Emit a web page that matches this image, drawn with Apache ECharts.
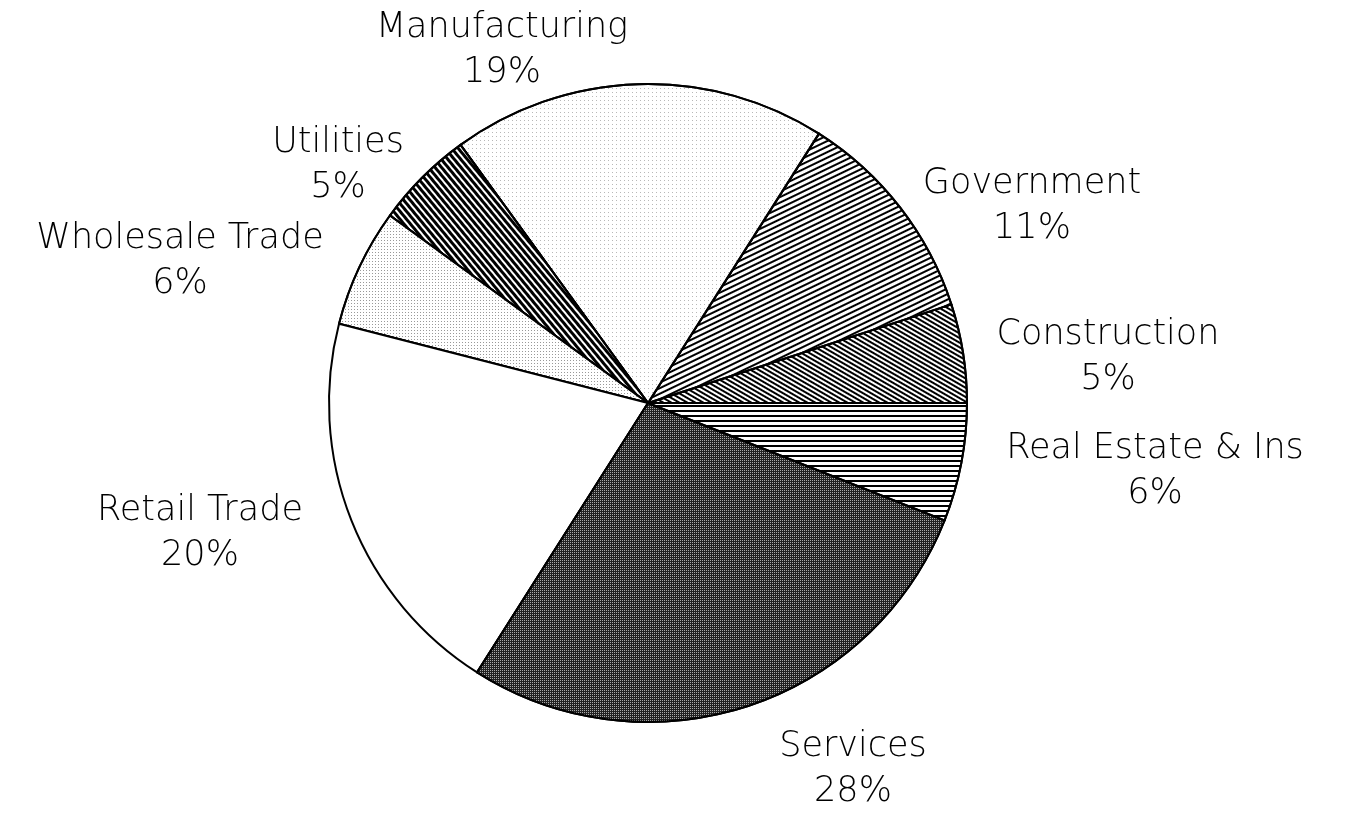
<!DOCTYPE html>
<html>
<head>
<meta charset="utf-8">
<script src="https://cdn.jsdelivr.net/npm/echarts@6/dist/echarts.min.js"></script>
<style>
  html, body { margin: 0; padding: 0; background: #fff; }
  #chart { width: 1348px; height: 814px; }
</style>
</head>
<body>
<div id="chart"></div>
<script>
// sectors counter-clockwise from 3 o'clock
const sectors = ['Construction', 'Government', 'Manufacturing', 'Utilities',
  'Wholesale Trade', 'Retail Trade', 'Services', 'Real Estate & Ins']
const shares = [5, 11, 19, 5, 6, 20, 28, 6]

// label centres (px) for each sector
const labelPos = {
  'Construction': [1108, 357],
  'Government': [1032, 206],
  'Manufacturing': [502, 50],
  'Utilities': [338, 165],
  'Wholesale Trade': [180, 261],
  'Retail Trade': [200, 533],
  'Services': [853, 769],
  'Real Estate & Ins': [1155, 471]
}

const stripes = (width, gap, rot) => ({
  symbol: 'rect', symbolSize: 1, color: '#000',
  dashArrayX: [1, 0], dashArrayY: [width, gap], rotation: rot
})
const dots = (col, step) => ({
  symbol: 'rect', symbolSize: 1, color: col,
  dashArrayX: [1, step], dashArrayY: [1, step], rotation: 0
})

const fills = {
  'Construction': { color: '#fff', decal: stripes(2, 2, Math.PI / 6) },
  'Government': { color: '#fff', decal: stripes(1.6, 2.4, -Math.PI / 7) },
  'Manufacturing': { color: '#fff', decal: dots('#b8b8b8', 3) },
  'Utilities': { color: '#fff', decal: stripes(2.5, 1.5, Math.PI * 0.28) },
  'Wholesale Trade': { color: '#fff', decal: dots('#999', 2) },
  'Retail Trade': { color: '#fff' },
  'Services': { color: '#222', decal: dots('#aaa', 1) },
  'Real Estate & Ins': { color: '#fff', decal: stripes(2, 2.3, 0) }
}

const chart = echarts.init(document.getElementById('chart'))
chart.setOption({
  backgroundColor: '#fff',
  animation: false,
  series: [{
    type: 'pie',
    center: [648, 403],
    radius: 319,
    startAngle: 0,
    clockwise: false,
    avoidLabelOverlap: false,
    itemStyle: { borderColor: '#000', borderWidth: 2 },
    label: {
      show: true,
      formatter: '{b}\n{c}%',
      fontFamily: 'DejaVu Sans',
      fontWeight: 200,
      fontSize: 35,
      lineHeight: 45,
      color: '#000',
      align: 'center'
    },
    labelLine: { show: false },
    labelLayout: params => {
      const p = labelPos[sectors[params.dataIndex]]
      return { x: p[0], y: p[1], align: 'center', verticalAlign: 'middle' }
    },
    emphasis: { disabled: true },
    data: sectors.map((name, i) => ({
      name,
      value: shares[i],
      itemStyle: fills[name]
    }))
  }]
})
</script>
</body>
</html>
